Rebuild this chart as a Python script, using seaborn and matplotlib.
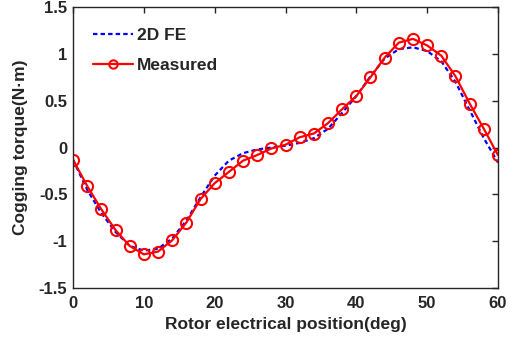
import matplotlib
matplotlib.use("Agg")
import matplotlib.pyplot as plt
import seaborn as sns
import pandas as pd

pos = [0, 2, 4, 6, 8, 10, 12, 14, 16, 18, 20, 22, 24, 26, 28, 30,
       32, 34, 36, 38, 40, 42, 44, 46, 48, 50, 52, 54, 56, 58, 60]
measured = [-0.13, -0.41, -0.66, -0.88, -1.05, -1.14, -1.11, -0.99, -0.80, -0.55,
            -0.38, -0.26, -0.14, -0.08, -0.01, 0.03, 0.11, 0.15, 0.26, 0.41,
            0.55, 0.75, 0.96, 1.12, 1.16, 1.09, 0.98, 0.76, 0.47, 0.20, -0.08]
fe = [-0.13, -0.45, -0.70, -0.90, -1.05, -1.10, -1.08, -0.97, -0.78, -0.53,
      -0.30, -0.14, -0.06, -0.02, 0.00, 0.02, 0.05, 0.10, 0.20, 0.37,
      0.55, 0.76, 0.95, 1.05, 1.07, 1.03, 0.92, 0.70, 0.40, 0.10, -0.16]

sns.set_style("white")
plt.rcParams['font.family'] = ['Liberation Sans', 'DejaVu Sans']
plt.rcParams['font.weight'] = 'bold'

fig = plt.figure(figsize=(5.19, 3.43), dpi=100)
ax = fig.add_axes([0.1407, 0.160, 0.8188, 0.8196])

df_fe = pd.DataFrame({'x': pos, 'y': fe})
df_m = pd.DataFrame({'x': pos, 'y': measured})
sns.lineplot(data=df_fe, x='x', y='y', ax=ax, color='#0000ff', linestyle=(0, (2.0, 1.4)),
             linewidth=1.6, label='2D FE')
sns.lineplot(data=df_m, x='x', y='y', ax=ax, color='#ff0000', linewidth=1.6,
             marker='o', markersize=8, markerfacecolor='none', markeredgecolor='#ff0000',
             markeredgewidth=1.5, label='Measured')

ax.set_xlim(0, 60)
ax.set_ylim(-1.5, 1.5)
ax.set_xticks([0, 10, 20, 30, 40, 50, 60])
ax.set_yticks([-1.5, -1, -0.5, 0, 0.5, 1, 1.5])
ax.set_yticklabels(['-1.5', '-1', '-0.5', '0', '0.5', '1', '1.5'])
ax.tick_params(direction='in', length=4, width=1, labelsize=12, top=True, right=True,
               colors='#262626', labelcolor='#262626')
ax.tick_params(axis='x', pad=6)
ax.tick_params(axis='y', pad=4)
for lab in ax.get_xticklabels() + ax.get_yticklabels():
    lab.set_fontweight('bold')
for s in ax.spines.values():
    s.set_color('#262626')
    s.set_linewidth(1.0)
ax.set_xlabel('Rotor electrical position(deg)', fontsize=12.5, fontweight='bold', color='#262626', labelpad=4)
ax.set_ylabel('Cogging torque(N·m)', fontsize=12.5, fontweight='bold', color='#262626', labelpad=8)
leg = ax.legend(loc='upper left', frameon=False, fontsize=12.5, handlelength=2.3,
                borderaxespad=0.0, borderpad=0.4, labelspacing=0.85, handletextpad=0.25,
                bbox_to_anchor=(0.03, 0.95))
for t in leg.get_texts():
    t.set_fontweight('bold')
    t.set_color('#262626')
for h in leg.legend_handles:
    try:
        h.set_markersize(6)
    except AttributeError:
        pass

fig.savefig('out.png', dpi=100)
